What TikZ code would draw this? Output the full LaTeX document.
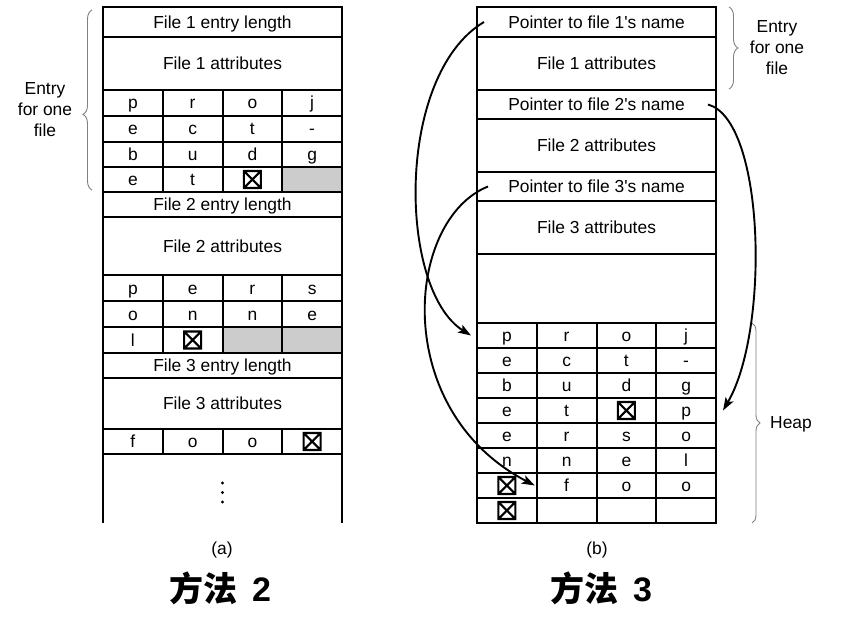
\documentclass[tikz,border=0pt]{standalone}
\usepackage{fontspec}
\setmainfont{Liberation Sans}
\newfontfamily\cjk{Noto Sans CJK SC}
\usetikzlibrary{arrows.meta,decorations.pathreplacing}

\newcommand\stopmark{\tikz[x=1pt,y=1pt,baseline=2.5pt]\draw[line width=2.2pt] (0,0) rectangle (17,17) (0,0) -- (17,17) (0,17) -- (17,0);}
\newcommand\cellrow[5]{\foreach \l [count=\c] in {#5} \node[cell, minimum height=#4pt] (#1-\c) at (#2-29.875+59.75*\c,#3) {\l};}

\tikzset{
  box/.style={draw, line width=2pt, inner sep=0pt, minimum width=239pt, text height=12.5pt, text depth=0pt},
  cell/.style={box, minimum width=59.75pt, text depth=0.5pt},
  ptr/.style={line width=1.9pt, -{Stealth[length=13pt,width=9pt,inset=3pt]}},
  brc/.style={decorate, decoration={brace, amplitude=9pt}, gray, line width=0.9pt},
}

\begin{document}
\begin{tikzpicture}[x=1pt, y=-1pt, font=\fontsize{17.4}{21}\selectfont]
    \useasboundingbox (0,0) rectangle (843,631);

    \fill[gray!40] (282,167) rectangle (342,192);
    \fill[gray!40] (222.5,327) rectangle (342,353);

    \node[box, minimum height=30pt] (a-len1) at (222.5,22) {File 1 entry length};
    \node[box, minimum height=53pt] (a-att1) at (222.5,63.5) {File 1 attributes};
    \cellrow{a1}{103}{103}{26}{p,r,o,j}
    \cellrow{a2}{103}{129}{26}{e,c,t,-}
    \cellrow{a3}{103}{154.5}{25}{b,u,d,g}
    \cellrow{a4}{103}{179.5}{25}{e,t,\stopmark,{}}
    \node[box, minimum height=25pt] (a-len2) at (222.5,204.5) {File 2 entry length};
    \node[box, minimum height=58pt] (a-att2) at (222.5,246) {File 2 attributes};
    \cellrow{a5}{103}{288}{26}{p,e,r,s}
    \cellrow{a6}{103}{314}{26}{o,n,n,e}
    \cellrow{a7}{103}{340}{26}{l,\stopmark,{},{}}
    \node[box, minimum height=25pt] (a-len3) at (222.5,365.5) {File 3 entry length};
    \node[box, minimum height=51pt] (a-att3) at (222.5,403.5) {File 3 attributes};
    \cellrow{a8}{103}{441.5}{25}{f,o,o,\stopmark}
    \draw[line width=2pt] (103,454) -- (103,523) (342,454) -- (342,523);
    \foreach \y in {483,492.5,502}
    \fill (222.5,\y) circle (1.6);

    \draw[brc, decoration={aspect=0.42}] (92,190) -- (92,10);
    \node[align=center] (a-entry) at (45,110) {Entry\\for one\\file};

    \node[box, minimum height=30pt] (b-p1) at (596.5,22) {Pointer to file 1\textquotesingle s name};
    \node[box, minimum height=53pt] (b-att1) at (596.5,63.5) {File 1 attributes};
    \node[box, minimum height=29pt] (b-p2) at (596.5,104.5) {Pointer to file 2\textquotesingle s name};
    \node[box, minimum height=53pt] (b-att2) at (596.5,145.5) {File 2 attributes};
    \node[box, minimum height=29pt] (b-p3) at (596.5,186.5) {Pointer to file 3\textquotesingle s name};
    \node[box, minimum height=53pt] (b-att3) at (596.5,227.5) {File 3 attributes};
    \node[box, minimum height=69pt] (b-free) at (596.5,288.5) {};
    \cellrow{h1}{477}{335.5}{25}{p,r,o,j}
    \cellrow{h2}{477}{360.5}{25}{e,c,t,-}
    \cellrow{h3}{477}{385.5}{25}{b,u,d,g}
    \cellrow{h4}{477}{410.5}{25}{e,t,\stopmark,p}
    \cellrow{h5}{477}{435.5}{25}{e,r,s,o}
    \cellrow{h6}{477}{460.5}{25}{n,n,e,l}
    \cellrow{h7}{477}{485.5}{25}{\stopmark,f,o,o}
    \cellrow{h8}{477}{510.5}{25}{\stopmark,{},{},{}}

    \draw[brc] (729,7) -- (729,89);
    \node[align=center] (b-entry) at (777,48) {Entry\\for one\\file};
    \draw[brc, decoration={amplitude=8pt}] (752,323) -- (752,523);
    \node (heap) at (791,424) {Heap};

    \draw[ptr] ([xshift=8pt]b-p1.west) .. controls (395,75) and (398,290) .. ([xshift=-5pt]h1-1.west);
    \draw[ptr] ([xshift=-9pt]b-p2.east) .. controls (765,120) and (770,330) .. ([xshift=6pt]h4-4.east);
    \draw[ptr] ([xshift=12pt]b-p3.west) .. controls (405,220) and (390,410) .. ([xshift=-1pt]h7-2.west);

    \node (a-cap) at (222,550) {(a)};
    \node (b-cap) at (597,550) {(b)};
    \node[font=\fontsize{34}{40}\selectfont\bfseries] (a-way) at (220,588) {{\cjk 方法}\hspace{15pt}2};
    \node[font=\fontsize{34}{40}\selectfont\bfseries] (b-way) at (601,588) {{\cjk 方法}\hspace{15pt}3};

\end{tikzpicture}
\end{document}
